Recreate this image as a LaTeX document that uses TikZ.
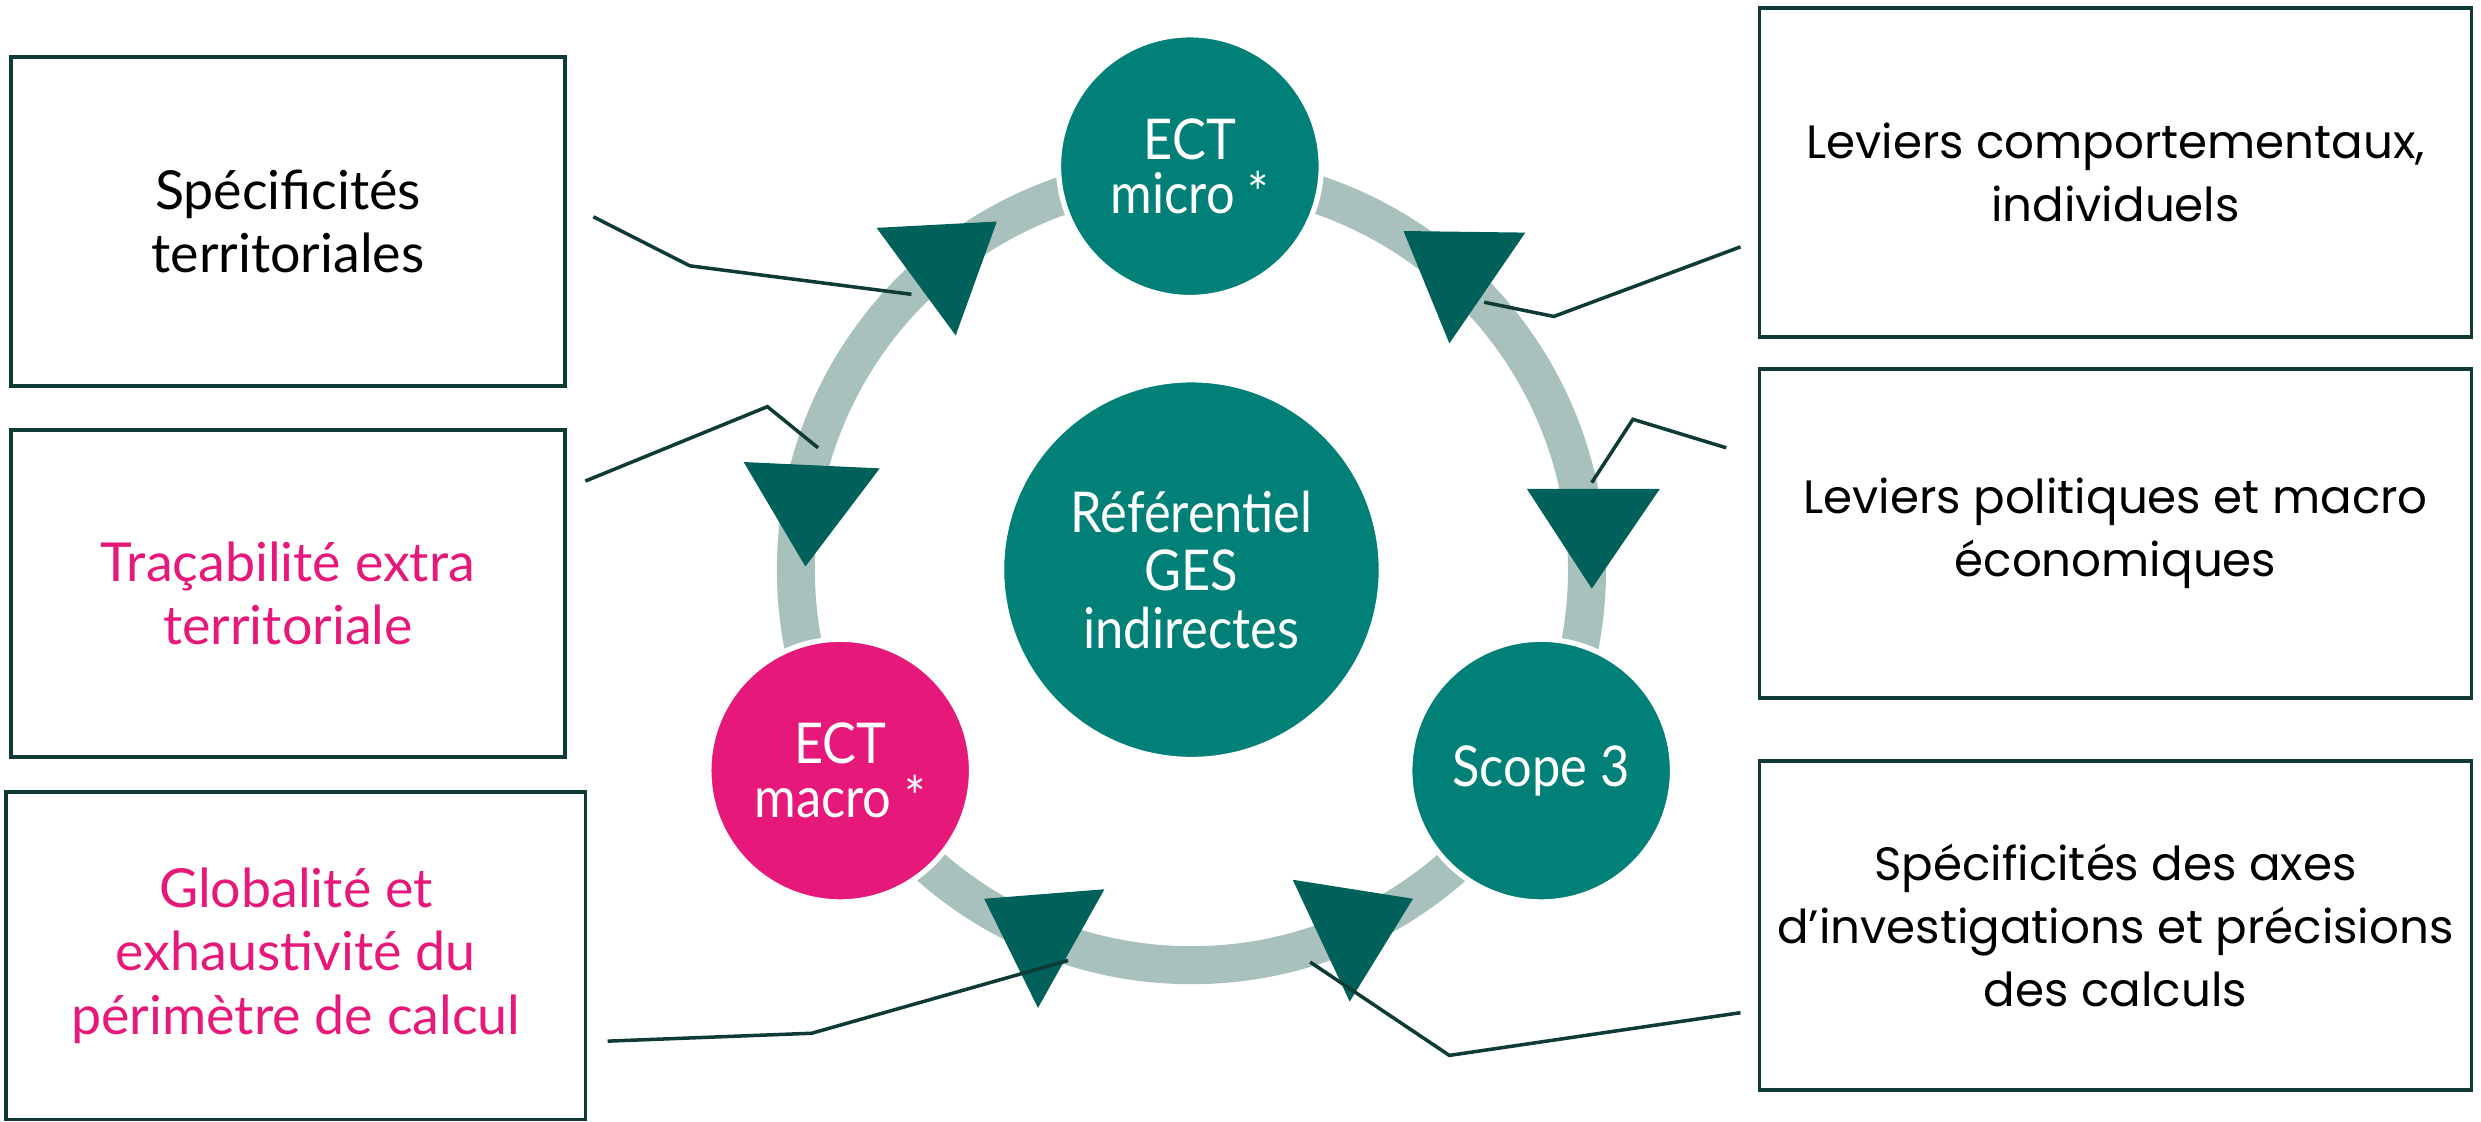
\documentclass[tikz,border=0pt]{standalone}
\usepackage{fontspec}
\setmainfont{Lato}
\newfontfamily\boxfont{Poppins}
\newfontfamily\narrowfont[FakeStretch=0.9]{Lato}
\definecolor{teal1}{HTML}{008077}
\definecolor{tealdark}{HTML}{00605A}
\definecolor{magent}{HTML}{E6197A}
\definecolor{ringc}{HTML}{A9C1BD}
\definecolor{edge}{HTML}{0E3B35}
\tikzset{
  bubble/.style={circle, draw=white, line width=1.5pt, text=white, align=center,
    font=\narrowfont\fontsize{16}{15.5}\selectfont, inner sep=0pt, minimum size=2.627cm},
  bigbubble/.style={bubble, fill=teal1, minimum size=3.797cm, font=\narrowfont\fontsize{16}{16.5}\selectfont},
  infobox/.style={rectangle, draw=edge, line width=1.1pt, align=center, inner sep=0pt,
    font=\fontsize{15.3}{18}\selectfont, minimum height=3.291cm, minimum width=5.538cm},
  rbox/.style={infobox, font=\boxfont\fontsize{13.3}{18}\selectfont, minimum width=7.120cm},
  tri/.style={fill=tealdark},
  conn/.style={draw=edge, line width=1pt},
  ring/.style={draw=ringc, line width=0.38cm}
}
\begin{document}
\begin{tikzpicture}[x=0.015823cm,y=-0.015823cm]
\useasboundingbox (0,0) rectangle (1568,709);
% ring
\draw[ring] (753,360) circle[radius=250];
% circles
\node[bubble, fill=teal1] (micro) at (752,105) {ECT\\micro *};
\node[bigbubble] (ref) at (753,360) {Référentiel\\GES\\indirectes};
\node[bubble, fill=magent] (macro) at (531,487) {ECT\\macro *};
\node[bubble, fill=teal1] (scope) at (974,487) {Scope 3};
% triangles
\fill[tri] (554,144) -- (630,140) -- (604,212) -- cycle;
\fill[tri] (887,146) -- (964,147) -- (916,217) -- cycle;
\fill[tri] (470,292) -- (556,296) -- (509,358) -- cycle;
\fill[tri] (965,309) -- (1049,309) -- (1006,372) -- cycle;
\fill[tri] (622,568) -- (698,562) -- (656,637) -- cycle;
\fill[tri] (817,556) -- (893,568) -- (853,633) -- cycle;
% boxes
\node[infobox] (b1) at (182,140) {Spécificités\\territoriales};
\node[infobox, text=magent, minimum height=3.275cm] (b2) at (182,375) {Traçabilité extra\\territoriale};
\node[infobox, text=magent, minimum width=5.791cm, minimum height=3.275cm] (b3) at (187,604) {Globalité et\\exhaustivité du\\périmètre de calcul};
\node[rbox] (r1) at (1337,109) {Leviers comportementaux,\\individuels};
\node[rbox] (r2) at (1337,337) {Leviers politiques et macro\\économiques};
\node[rbox] (r3) at (1337,585) {Spécificités des axes\\d’investigations et précisions\\des calculs};
% connector coordinates
\coordinate (c1a) at (375,137); \coordinate (c1b) at (436,168); \coordinate (c1c) at (576,186);
\coordinate (c2a) at (370,304); \coordinate (c2b) at (485,257); \coordinate (c2c) at (517,283);
\coordinate (c3a) at (1100,156); \coordinate (c3b) at (982,200); \coordinate (c3c) at (938,191);
\coordinate (c4a) at (1091,283); \coordinate (c4b) at (1032,265); \coordinate (c4c) at (1006,305);
\coordinate (c5a) at (384,658); \coordinate (c5b) at (513,653); \coordinate (c5c) at (675,607);
\coordinate (c6a) at (1100,640); \coordinate (c6b) at (916,667); \coordinate (c6c) at (828,608);
\draw[conn] (c1a) -- (c1b) -- (c1c);
\draw[conn] (c2a) -- (c2b) -- (c2c);
\draw[conn] (c3a) -- (c3b) -- (c3c);
\draw[conn] (c4a) -- (c4b) -- (c4c);
\draw[conn] (c5a) -- (c5b) -- (c5c);
\draw[conn] (c6a) -- (c6b) -- (c6c);
\end{tikzpicture}
\end{document}
